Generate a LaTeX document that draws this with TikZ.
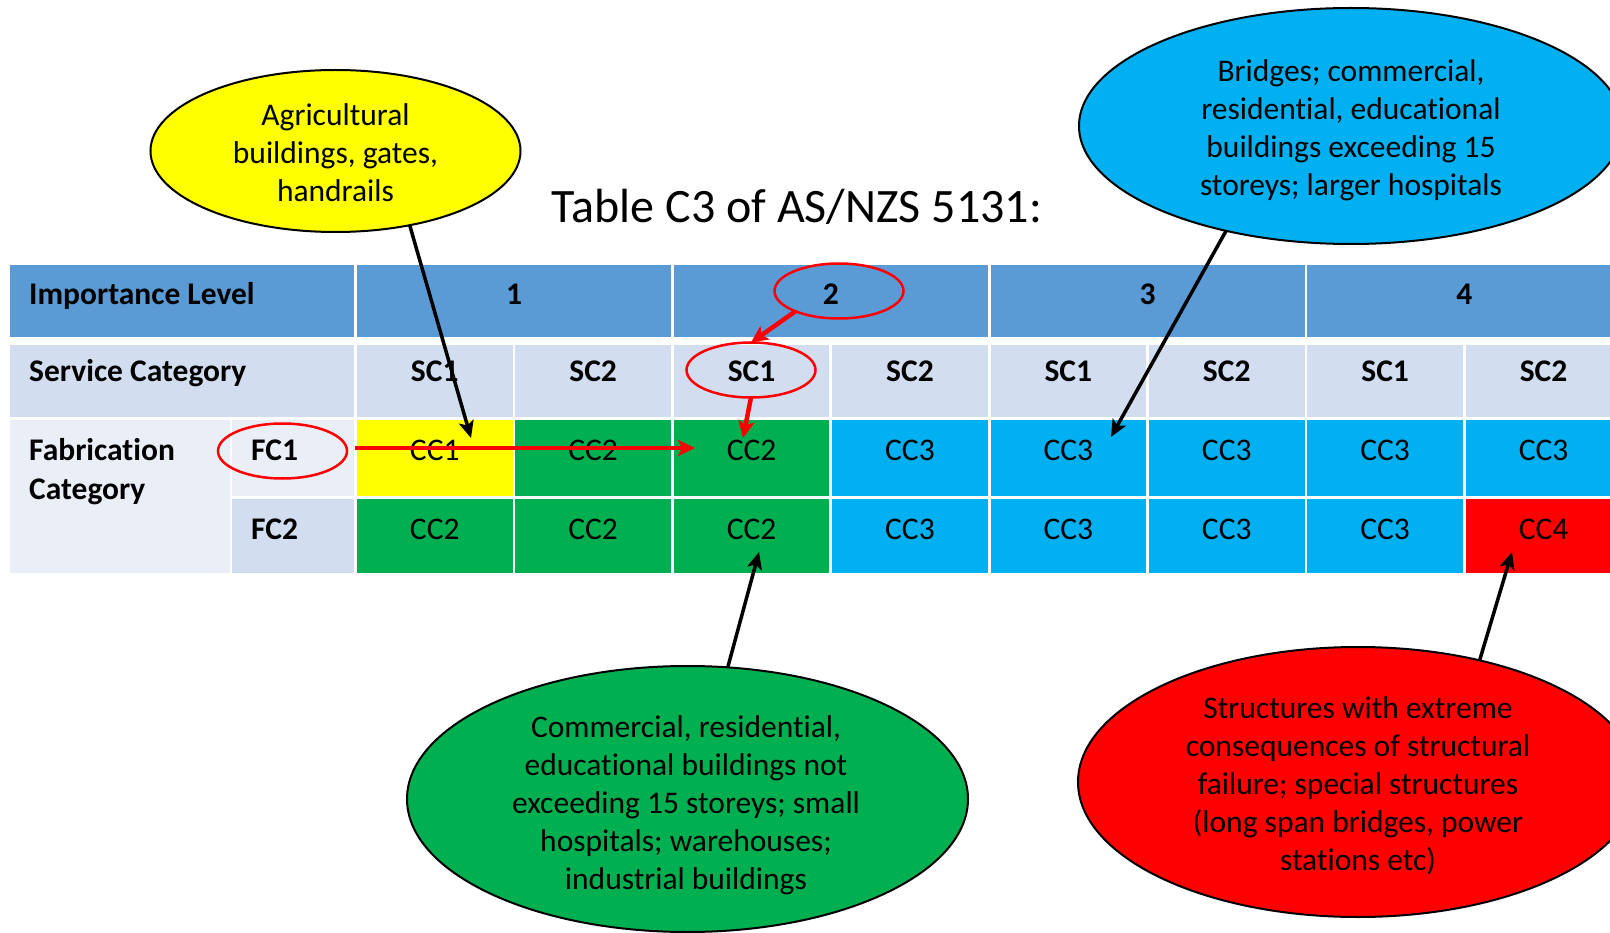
\documentclass[tikz,border=0pt]{standalone}
\usepackage{fontspec}
\setmainfont{Carlito}[Ligatures=NoCommon]
\usetikzlibrary{arrows.meta,shapes.geometric}
\definecolor{hdr}{HTML}{5B9BD5}
\definecolor{lta}{HTML}{D2DEEF}
\definecolor{ltb}{HTML}{EAEFF7}
\definecolor{cyel}{HTML}{FFFF00}
\definecolor{cgrn}{HTML}{00B050}
\definecolor{cblu}{HTML}{00B0F0}
\definecolor{cred}{HTML}{FF0000}
\begin{document}
\begin{tikzpicture}[x=1pt,y=-1pt,
  txt/.style={font=\fontsize{31.5}{38}\selectfont},
  cellbox/.style={rectangle, draw=none, inner sep=0pt, outer sep=0pt, anchor=north west},
  lbl/.style={txt, anchor=base, inner sep=0pt},
  lblb/.style={lbl, font=\fontsize{31.5}{38}\selectfont\bfseries},
  lblw/.style={lblb, anchor=base west},
  bubble/.style={ellipse, draw=black, line width=2pt, inner sep=0pt, outer sep=0pt},
  bubtxt/.style={txt, align=center, inner sep=0pt},
  ring/.style={ellipse, draw=cred, line width=2.5pt, inner sep=0pt, outer sep=0pt, minimum width=129pt, minimum height=55pt},
  blk/.style={draw=black, line width=3.5pt, -{Stealth[length=17pt,width=15pt,inset=4pt]}},
  redarr/.style={draw=cred, line width=4.5pt, -{Stealth[length=17pt,width=16pt,inset=4pt]}}
]
\useasboundingbox (0,0) rectangle (1610,933);
\clip (0,0) rectangle (1610,933);

% ---- header row
\node[cellbox, fill=hdr, minimum width=344pt, minimum height=72pt] (il) at (10,265) {};
\node[lblw] (iltxt) at (29,305) {Importance Level};
\foreach \i/\lab in {0/1,1/2,2/3,3/4}{
  \pgfmathsetmacro\xx{357+316.8*\i}
  \node[cellbox, fill=hdr, minimum width=313.9pt, minimum height=72pt] (h\i) at (\xx,265) {};
  \node[lblb] (hl\i) at (\xx+157,305) {\lab};
}

% ---- service category row
\node[cellbox, fill=lta, minimum width=344pt, minimum height=72pt] (sc) at (10,345) {};
\node[lblw] (sctxt) at (29,382) {Service Category};

% ---- fabrication rows
\node[cellbox, fill=ltb, minimum width=219.5pt, minimum height=153pt] (fab) at (10,420) {};
\node[lblw] (fabtxta) at (29,460) {Fabrication};
\node[lblw] (fabtxtb) at (29,499) {Category};
\node[cellbox, fill=ltb, minimum width=122pt, minimum height=75.5pt] (fca) at (232,420) {};
\node[lblw] (fcatxt) at (251,460) {FC1};
\node[cellbox, fill=lta, minimum width=122pt, minimum height=74.5pt] (fcb) at (232,498.5) {};
\node[lblw] (fcbtxt) at (251,539) {FC2};

\foreach \i/\sc/\ca/\la/\cb/\lb in {0/SC1/cyel/CC1/cgrn/CC2, 1/SC2/cgrn/CC2/cgrn/CC2,
    2/SC1/cgrn/CC2/cgrn/CC2, 3/SC2/cblu/CC3/cblu/CC3, 4/SC1/cblu/CC3/cblu/CC3,
    5/SC2/cblu/CC3/cblu/CC3, 6/SC1/cblu/CC3/cblu/CC3, 7/SC2/cblu/CC3/cred/CC4}{
  \pgfmathsetmacro\xx{357+158.4*\i}
  \node[cellbox, fill=lta, minimum width=155.5pt, minimum height=72pt] (s\i) at (\xx,345) {};
  \node[lblb] (st\i) at (\xx+77.75,382) {\sc};
  \node[cellbox, fill=\ca, minimum width=155.5pt, minimum height=75.5pt] (a\i) at (\xx,420) {};
  \node[lbl] (at\i) at (\xx+77.75,460) {\la};
  \node[cellbox, fill=\cb, minimum width=155.5pt, minimum height=74.5pt] (b\i) at (\xx,498.5) {};
  \node[lbl] (bt\i) at (\xx+77.75,539) {\lb};
}

% ---- red rings
\node[ring] (rfc) at (282.5,451) {};
\node[ring] (rtwo) at (839,291) {};
\node[ring] (rsc) at (751,370) {};

% ---- title
\node[anchor=base, inner sep=0pt, font=\fontsize{48}{58}\selectfont] (title) at (797,223) {Table C3 of AS/NZS 5131:};

% ---- bubbles
\node[bubble, fill=cyel, minimum width=370pt, minimum height=162pt] (yel) at (335.5,151) {};
\node[bubtxt] (yeltxt) at (335.5,153) {Agricultural\\buildings, gates,\\handrails};

\node[bubble, fill=cblu, minimum width=544pt, minimum height=236pt] (blu) at (1351,126) {};
\node[bubtxt] (blutxt) at (1351,130) {Bridges; commercial,\\residential, educational\\buildings exceeding 15\\storeys; larger hospitals};

\node[bubble, fill=cgrn, minimum width=561pt, minimum height=266pt] (grn) at (687.5,799) {};
\node[bubtxt] (grntxt) at (686,805) {Commercial, residential,\\educational buildings not\\exceeding 15 storeys; small\\hospitals; warehouses;\\industrial buildings};

\node[bubble, fill=cred, minimum width=560pt, minimum height=270pt] (rd) at (1358,782) {};
\node[bubtxt] (rdtxt) at (1358,786) {Structures with extreme\\consequences of structural\\failure; special structures\\(long span bridges, power\\stations etc)};

% ---- connector end points
\coordinate (tyel) at (471,438);
\coordinate (tblu) at (1111,437);
\coordinate (tgrn) at (759,552);
\coordinate (trd) at (1512,552);
\coordinate (hstart) at (355,448);
\coordinate (hend) at (695,448);
\coordinate (tcc) at (743,438);

% ---- black arrows
\draw[blk] (yel.-45) -- (tyel);
\draw[blk] (blu.220) -- (tblu);
\draw[blk] (grn.73) -- (tgrn);
\draw[blk] (rd.45) -- (trd);

% ---- red arrows
\draw[redarr] (hstart) -- (hend);
\draw[redarr] (rtwo.205) -- (rsc.north);
\draw[redarr] (rsc.south) -- (tcc);
\end{tikzpicture}
\end{document}
